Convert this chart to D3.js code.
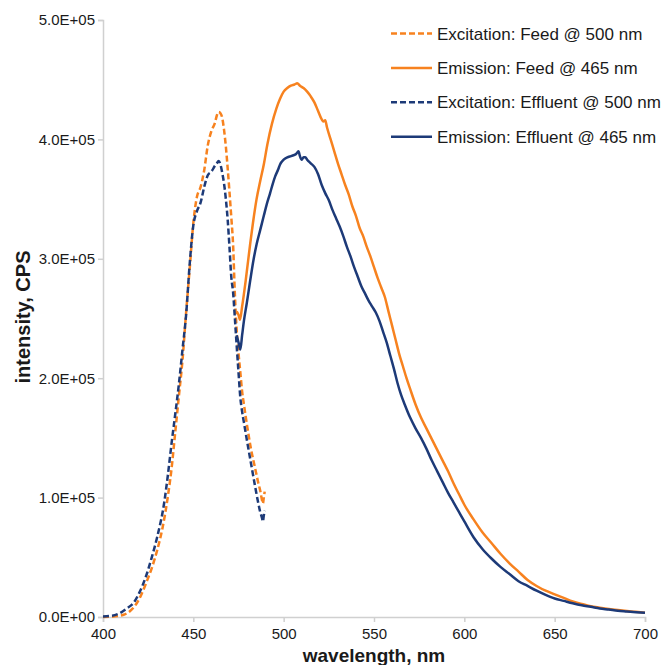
<!DOCTYPE html>
<html>
<head>
<meta charset="utf-8">
<script src="https://cdn.jsdelivr.net/npm/d3@7"></script>
<style>
  html, body { margin: 0; padding: 0; background: #fff; }
  svg { display: block; font-family: "Liberation Sans", Arial, sans-serif; }
</style>
</head>
<body>
<svg id="chart" width="667" height="665"></svg>
<script>
// Fluorescence spectra: wavelength (nm) and intensity (CPS)
const exFeedNm = [400, 404, 408, 412, 415, 418, 421, 424, 427, 430, 433, 436, 438, 440, 442, 444, 446, 448, 450, 452, 454, 456, 458, 460, 462, 463, 464, 465, 466, 467, 468, 469, 470, 471, 472, 473, 474, 475, 476, 477, 478, 480, 482, 484, 486, 487, 488, 488.5, 489, 489.5];
const exFeedCps = [0, 200, 800, 2200, 5000, 10000, 18000, 29000, 41000, 56000, 75000, 102000, 125000, 155000, 185000, 215000, 255000, 292000, 330000, 352000, 360000, 374000, 395000, 407000, 414000, 420000, 423000, 422000, 418000, 408000, 394000, 376000, 356000, 335000, 312000, 270000, 240000, 221000, 205000, 189000, 178000, 158000, 140000, 126000, 112000, 106000, 98000, 95000, 100000, 105000];

const exEffNm = [400, 405, 409, 413, 417, 420, 424, 427, 430, 434, 436, 438, 440, 442, 444, 446, 448, 450, 452, 454, 456, 458, 460, 462, 463, 464, 465, 466, 467, 468, 469, 470, 471, 472, 473, 474, 475, 476, 477, 478, 480, 482, 484, 486, 487, 488, 488.5, 489, 489.5];
const exEffCps = [500, 1000, 3000, 7000, 12000, 20000, 35000, 50000, 67000, 97000, 120000, 146000, 170000, 195000, 224000, 253000, 296000, 328000, 340000, 347000, 360000, 370000, 373000, 378000, 380000, 382000, 379000, 372000, 363000, 350000, 333000, 310000, 285000, 272000, 250000, 227000, 205000, 184000, 172000, 163000, 145000, 128000, 111000, 95000, 88000, 83000, 80000, 85000, 89000];

const emFeedNm = [474, 475, 475.8, 477, 479, 481.5, 483, 485, 487, 489, 491, 493.5, 496, 498, 500, 502, 504, 506, 507.5, 509, 511, 513, 515, 517, 519, 521, 522, 523, 524, 526, 528, 530, 532, 534, 536, 538, 540, 542, 544, 546, 548, 550, 552, 554, 556, 558, 560, 562, 564, 566, 568, 570, 573, 576, 579, 582, 585, 588, 591, 594, 597, 600, 605, 610, 615, 620, 625, 630, 635, 640, 645, 650, 655, 660, 665, 670, 675, 680, 685, 690, 695, 700];
const emFeedCps = [256000, 253000, 249000, 260000, 282000, 313000, 330000, 350000, 365000, 379000, 396000, 413000, 426000, 434000, 440000, 443000, 445000, 446000, 447000, 445000, 443000, 440000, 436000, 431000, 424000, 417000, 415000, 416000, 410000, 400000, 390000, 380000, 371000, 362000, 354000, 344000, 336000, 326000, 319000, 310000, 302000, 293000, 284000, 276000, 268000, 256000, 244000, 232000, 220000, 210000, 200000, 191000, 178000, 167000, 158000, 149000, 140000, 131000, 122000, 112000, 103000, 94000, 82000, 71000, 62000, 53000, 45000, 38000, 31000, 26000, 22000, 19000, 16000, 13000, 11000, 9000, 7800, 6700, 5800, 5000, 4300, 3600];

const emEffNm = [474, 475, 476, 477, 478, 479.6, 481.5, 483.3, 485, 487, 489, 490.7, 492.5, 494, 495.3, 497, 498, 500, 502, 504, 506, 507, 508.2, 509, 510, 511, 512, 513, 515, 517, 519, 521, 523, 525, 527, 529, 531, 533, 535, 537, 539, 541, 543, 545, 547, 549, 551, 553, 555, 557, 559, 561, 563, 565, 567, 570, 573, 576, 579, 582, 585, 588, 591, 594, 597, 600, 605, 610, 615, 620, 625, 630, 635, 640, 645, 650, 655, 660, 665, 670, 675, 680, 685, 690, 695, 700];
const emEffCps = [236000, 230000, 224000, 236000, 248000, 263000, 282000, 299000, 312000, 324000, 336000, 346000, 355000, 363000, 369000, 375000, 379000, 383000, 385000, 386000, 387000, 388000, 390000, 386000, 383000, 385000, 385000, 383000, 380000, 377000, 371000, 362000, 355000, 349000, 341000, 334000, 327000, 319000, 310000, 302000, 293000, 285000, 277000, 271000, 265000, 260000, 255000, 248000, 239000, 230000, 219000, 208000, 196000, 186000, 178000, 167000, 158000, 150000, 141000, 131000, 122000, 113000, 104000, 96000, 88000, 80000, 67000, 57000, 49000, 42000, 36000, 30000, 26000, 22000, 18500, 15500, 13500, 11500, 9800, 8500, 7100, 6200, 5200, 4600, 4000, 3500];

const seriesNames = ["Excitation: Feed @ 500 nm", "Emission: Feed @ 465 nm", "Excitation: Effluent @ 500 nm", "Emission: Effluent @ 465 nm"];
const xTicks = [400, 450, 500, 550, 600, 650, 700];
const yTicks = [0, 100000, 200000, 300000, 400000, 500000];

const ORANGE = "#f7821f";
const NAVY = "#1d3a78";

const series = [
  { name: seriesNames[0], nm: exFeedNm, cps: exFeedCps, color: ORANGE, dash: "6,3" },
  { name: seriesNames[1], nm: emFeedNm, cps: emFeedCps, color: ORANGE, dash: null },
  { name: seriesNames[2], nm: exEffNm, cps: exEffCps, color: NAVY, dash: "6,3" },
  { name: seriesNames[3], nm: emEffNm, cps: emEffCps, color: NAVY, dash: null }
];

const svg = d3.select("#chart");
const x = d3.scaleLinear().domain([400, 700]).range([103, 645]);
const y = d3.scaleLinear().domain([0, 500000]).range([617, 20]);

// Scientific notation like 5.0E+05
function sci(v) {
  if (v === 0) return "0.0E+00";
  const e = Math.floor(Math.log10(Math.abs(v)));
  const m = v / Math.pow(10, e);
  return m.toFixed(1) + "E" + (e < 0 ? "-" : "+") + String(Math.abs(e)).padStart(2, "0");
}

const axisColor = "#d0d0d0";
const textColor = "#1a1a1a";

// Y axis
const yAxis = svg.append("g")
  .attr("transform", `translate(${x(400)},0)`)
  .call(d3.axisLeft(y).tickValues(yTicks).tickFormat(sci).tickSize(5).tickSizeOuter(5).tickPadding(3));
// X axis
const xAxis = svg.append("g")
  .attr("transform", `translate(0,${y(0)})`)
  .call(d3.axisBottom(x).tickValues(xTicks).tickFormat(d3.format("d")).tickSize(5).tickSizeOuter(5).tickPadding(6));

[yAxis, xAxis].forEach(g => {
  g.select(".domain").attr("stroke", axisColor).attr("stroke-width", 1.5);
  g.selectAll(".tick line").attr("stroke", axisColor).attr("stroke-width", 1.5);
  g.selectAll(".tick text").attr("fill", textColor)
    .style("font-family", "'Liberation Sans', Arial, sans-serif").style("font-size", "15px");
});

// Axis titles
svg.append("text")
  .attr("transform", `translate(30,317) rotate(-90)`)
  .attr("text-anchor", "middle")
  .attr("fill", textColor)
  .style("font-size", "20px").style("font-weight", "bold")
  .text("intensity, CPS");

svg.append("text")
  .attr("x", (x(400) + x(700)) / 2)
  .attr("y", 662)
  .attr("text-anchor", "middle")
  .attr("fill", textColor)
  .style("font-size", "19px").style("font-weight", "bold")
  .text("wavelength, nm");

// Spectra
const line = d3.line()
  .x(d => x(d[0]))
  .y(d => y(d[1]))
  .curve(d3.curveMonotoneX);

svg.append("g").selectAll("path")
  .data(series)
  .join("path")
  .attr("d", s => line(s.nm.map((w, i) => [w, s.cps[i]])))
  .attr("fill", "none")
  .attr("stroke", s => s.color)
  .attr("stroke-width", 2.5)
  .attr("stroke-linejoin", "round")
  .attr("stroke-dasharray", s => s.dash);

// Legend
const legend = svg.append("g");
const rows = legend.selectAll("g")
  .data(series)
  .join("g")
  .attr("transform", (s, i) => `translate(391,${33.5 + i * 34.4})`);
rows.append("line")
  .attr("x1", 0).attr("x2", 41).attr("y1", 0).attr("y2", 0)
  .attr("stroke", s => s.color)
  .attr("stroke-width", 2.5)
  .attr("stroke-dasharray", s => s.dash);
rows.append("text")
  .attr("x", 46).attr("y", 6)
  .attr("fill", textColor)
  .style("font-size", "17px")
  .text(s => s.name);
</script>
</body>
</html>
